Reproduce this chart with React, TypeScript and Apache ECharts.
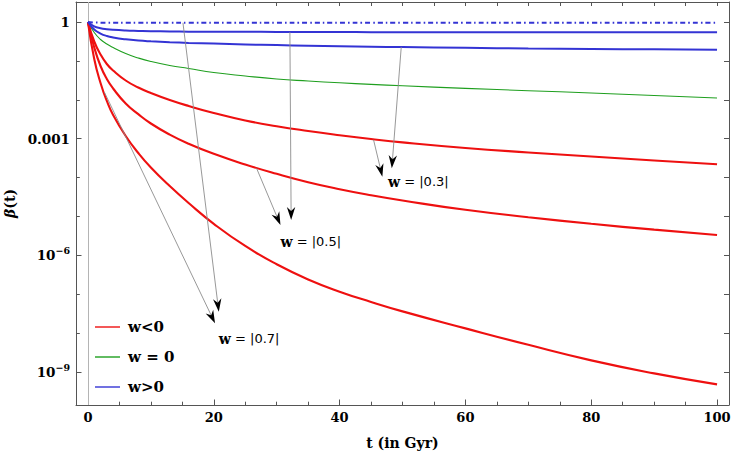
import React, { useEffect, useRef } from "react";
import * as echarts from "echarts";

// sample times (Gyr)
const tGyr = [0, 1, 2, 3, 4, 6, 8, 10, 13, 16, 20, 25, 30, 35, 40, 45, 50, 60, 70, 80, 90, 100];

// log10 of beta(t)
const logBetaRedW03 = [0, -0.501, -0.835, -1.08, -1.247, -1.504, -1.684, -1.825, -2.005, -2.159, -2.339, -2.532, -2.68, -2.802, -2.91, -3.008, -3.095, -3.239, -3.355, -3.46, -3.56, -3.658];
const logBetaRedW05 = [0, -0.656, -1.131, -1.465, -1.71, -2.095, -2.37, -2.61, -2.895, -3.13, -3.39, -3.665, -3.905, -4.12, -4.3, -4.455, -4.59, -4.83, -5.02, -5.19, -5.34, -5.476];
const logBetaRedW07 = [0, -0.951, -1.568, -2.031, -2.391, -2.931, -3.368, -3.74, -4.22, -4.655, -5.19, -5.76, -6.23, -6.62, -6.935, -7.2, -7.442, -7.879, -8.303, -8.702, -9.036, -9.319];
const logBetaGreenW0 = [0, -0.27, -0.45, -0.566, -0.656, -0.81, -0.925, -1.015, -1.118, -1.195, -1.298, -1.388, -1.465, -1.517, -1.563, -1.604, -1.64, -1.707, -1.766, -1.825, -1.889, -1.954];
const logBetaBlueW03 = [0, -0.193, -0.296, -0.36, -0.398, -0.445, -0.476, -0.496, -0.519, -0.537, -0.555, -0.576, -0.594, -0.609, -0.622, -0.635, -0.645, -0.663, -0.679, -0.692, -0.702, -0.712];
const logBetaBlueW05 = [0, -0.111, -0.159, -0.185, -0.201, -0.219, -0.229, -0.237, -0.242, -0.247, -0.249, -0.252, -0.254, -0.257, -0.257, -0.26, -0.26, -0.262, -0.262, -0.265, -0.265, -0.265];
const logBetaBlueW07 = [0, -0.012, -0.016, -0.018, -0.018, -0.019, -0.019, -0.02, -0.02, -0.02, -0.02, -0.02, -0.02, -0.02, -0.02, -0.02, -0.02, -0.02, -0.02, -0.02, -0.02, -0.02];

// ticks
const xMajorTicks = [0, 20, 40, 60, 80, 100];
const xMinorTicks = [5, 10, 15, 25, 30, 35, 45, 50, 55, 65, 70, 75, 85, 90, 95];
const xTopTicks = [0, 5, 10, 15, 20, 25, 30, 35, 40, 45, 50, 55, 60, 65, 70, 75, 80, 85, 90, 95, 100];
const yLabelTicks = [-9, -6, -3, 0];
const yMinorTicks = [-8, -7, -5, -4, -2, -1];
const yDecadeTicks = [-9, -8, -7, -6, -5, -4, -3, -2, -1, 0];
const yTickText: Record<string, string> = { "0": "1", "-3": "0.001", "-6": "10{sup|−6}", "-9": "10{sup|−9}" };

// annotation arrows: [t start, log beta start, t tip, log beta tip]
const annotationArrows = [
  [2.6, -1.8, 20.2, -7.75],
  [15.1, -0.02, 20.8, -7.45],
  [26.8, -3.76, 30.6, -5.22],
  [32.1, -0.26, 32.3, -5.09],
  [45.4, -3.03, 46.8, -3.98],
  [49.8, -0.645, 48.3, -3.76],
];
const annotationLabelText = ["|0.3|", "|0.5|", "|0.7|"];
const annotationLabelPos = [
  [47.7, -4.11],
  [30.6, -5.65],
  [20.8, -8.15],
];

const RED = "#ee1010";
const GREEN = "#1f9f1f";
const BLUE = "#3434d4";
const FRAME = "#555555";
const SERIF = "DejaVu Serif";

function pairs(ys: number[]) {
  return tGyr.map((t, i) => [t, ys[i]]);
}

function curve(name: string, ys: number[], color: string, width: number, type: any = "solid") {
  return {
    type: "line",
    name,
    data: pairs(ys),
    xAxisIndex: 0,
    yAxisIndex: 0,
    symbol: "none",
    showSymbol: false,
    smooth: 0.5,
    lineStyle: { color, width, type, cap: "butt" },
    itemStyle: { color },
    z: 3,
  };
}

export default function App() {
  const ref = useRef<HTMLDivElement>(null);
  useEffect(() => {
    if (!ref.current) return;
    const chart = echarts.init(ref.current, null, { renderer: "svg" });
    const xMin = -1.9;
    const xMax = 101.9;
    const yMin = -9.85;
    const yMax = 0.515;
    const option: any = {
      animation: false,
      grid: { left: 76, right: 5, top: 2, bottom: 47, containLabel: false, outerBoundsMode: "none" },
      legend: {
        orient: "vertical",
        left: 90,
        top: 314,
        icon: "rect",
        itemWidth: 25,
        itemHeight: 1.4,
        itemGap: 14,
        data: [
          { name: "w<0", itemStyle: { color: RED } },
          { name: "w = 0", itemStyle: { color: GREEN } },
          { name: "w>0", itemStyle: { color: BLUE } },
        ],
        textStyle: { fontFamily: SERIF, fontWeight: "bold", fontSize: 15, color: "#000", lineHeight: 16, padding: [0, 0, 0, 3] },
        selectedMode: false,
      },
      xAxis: [
        {
          type: "value",
          min: xMin,
          max: xMax,
          position: "bottom",
          axisLine: { show: true, onZero: false, lineStyle: { color: FRAME, width: 1 } },
          axisTick: { show: true, inside: true, length: 5.5, customValues: xMajorTicks, lineStyle: { color: FRAME } },
          axisLabel: { show: true, customValues: xMajorTicks, fontFamily: SERIF, fontWeight: "bold", fontSize: 13, color: "#000", margin: 6 },
          splitLine: { show: false },
          name: "t (in Gyr)",
          nameLocation: "middle",
          nameGap: 31,
          nameTextStyle: { fontFamily: SERIF, fontWeight: "bold", fontSize: 14, color: "#000" },
        },
        {
          type: "value",
          min: xMin,
          max: xMax,
          position: "bottom",
          axisLine: { show: false, onZero: false },
          axisTick: { show: true, inside: true, length: 3.3, customValues: xMinorTicks, lineStyle: { color: FRAME } },
          axisLabel: { show: false },
          splitLine: { show: false },
        },
        {
          type: "value",
          min: xMin,
          max: xMax,
          position: "top",
          axisLine: { show: true, onZero: false, lineStyle: { color: FRAME, width: 1 } },
          axisTick: { show: true, inside: true, length: 4, customValues: xTopTicks, lineStyle: { color: FRAME } },
          axisLabel: { show: false },
          splitLine: { show: false },
        },
      ],
      yAxis: [
        {
          type: "value",
          min: yMin,
          max: yMax,
          position: "left",
          axisLine: { show: true, onZero: false, lineStyle: { color: FRAME, width: 1 } },
          axisTick: { show: true, inside: true, length: 5.5, customValues: yLabelTicks, lineStyle: { color: FRAME } },
          axisLabel: {
            show: true,
            customValues: yLabelTicks,
            formatter: (v: number) => yTickText[String(Math.round(v))] ?? "",
            fontFamily: SERIF,
            fontWeight: "bold",
            fontSize: 13.5,
            color: "#000",
            margin: 6,
            rich: {
              sup: { fontFamily: SERIF, fontWeight: "bold", fontSize: 9.5, color: "#000", padding: [0, 0, 9, 0] },
            },
          },
          splitLine: { show: false },
          name: "{b|β}(t)",
          nameLocation: "middle",
          nameGap: 56,
          nameRotate: 90,
          nameTextStyle: {
            fontFamily: SERIF,
            fontWeight: "bold",
            fontSize: 14,
            color: "#000",
            rich: { b: { fontFamily: SERIF, fontWeight: "bold", fontSize: 14, fontStyle: "italic", color: "#000" } },
          },
        },
        {
          type: "value",
          min: yMin,
          max: yMax,
          position: "left",
          axisLine: { show: false, onZero: false },
          axisTick: { show: true, inside: true, length: 3.8, customValues: yMinorTicks, lineStyle: { color: FRAME } },
          axisLabel: { show: false },
          splitLine: { show: false },
        },
        {
          type: "value",
          min: yMin,
          max: yMax,
          position: "right",
          axisLine: { show: true, onZero: false, lineStyle: { color: FRAME, width: 1 } },
          axisTick: { show: true, inside: true, length: 5, customValues: yDecadeTicks, lineStyle: { color: FRAME } },
          axisLabel: { show: false },
          splitLine: { show: false },
        },
      ],
      series: [
        {
          ...curve("w = 0", logBetaGreenW0, GREEN, 1.1),
          markLine: {
            silent: true,
            symbol: ["none", "none"],
            label: { show: false },
            lineStyle: { color: "#b4b4b4", width: 1, type: "solid" },
            data: [{ xAxis: 0 }],
            z: 1,
          },
        },
        curve("w<0", logBetaRedW03, RED, 2.1),
        curve("w<0", logBetaRedW05, RED, 2.1),
        curve("w<0", logBetaRedW07, RED, 2.1),
        curve("w>0", logBetaBlueW03, BLUE, 2),
        curve("w>0", logBetaBlueW05, BLUE, 2),
        curve("w>0", logBetaBlueW07, BLUE, 2, [5, 3, 1.6, 3]),
        {
          type: "custom",
          name: "arrows",
          xAxisIndex: 0,
          yAxisIndex: 0,
          silent: true,
          z: 5,
          data: annotationArrows,
          encode: { x: [0, 2], y: [1, 3] },
          renderItem: (params: any, api: any) => {
            const a = api.coord([api.value(0), api.value(1)]);
            const b = api.coord([api.value(2), api.value(3)]);
            const dx = b[0] - a[0];
            const dy = b[1] - a[1];
            const len = Math.hypot(dx, dy) || 1;
            const ux = dx / len;
            const uy = dy / len;
            const nx = -uy;
            const ny = ux;
            const L = 13;
            const W = 4.2;
            const N = 4;
            const bx = b[0] - ux * L;
            const by = b[1] - uy * L;
            const mx = b[0] - ux * (L - N);
            const my = b[1] - uy * (L - N);
            return {
              type: "group",
              children: [
                {
                  type: "line",
                  shape: { x1: a[0], y1: a[1], x2: mx, y2: my },
                  style: { stroke: "#8c8c8c", lineWidth: 0.9 },
                },
                {
                  type: "polygon",
                  shape: { points: [[b[0], b[1]], [bx + nx * W, by + ny * W], [mx, my], [bx - nx * W, by - ny * W]] },
                  style: { fill: "#000" },
                },
              ],
            };
          },
        },
        {
          type: "custom",
          name: "labels",
          xAxisIndex: 0,
          yAxisIndex: 0,
          silent: true,
          z: 6,
          data: annotationLabelPos,
          renderItem: (params: any, api: any) => {
            const p = api.coord([api.value(0), api.value(1)]);
            return {
              type: "text",
              x: p[0],
              y: p[1],
              style: {
                text: "{w|w} = " + annotationLabelText[params.dataIndex],
                rich: { w: { fontFamily: SERIF, fontWeight: "bold", fontSize: 14, fill: "#000" } },
                fontFamily: "DejaVu Sans",
                fontSize: 13,
                fill: "#000",
                align: "left",
                verticalAlign: "middle",
              },
            };
          },
        },
      ],
    };
    chart.setOption(option);
    return () => chart.dispose();
  }, []);
  return (
    <div
      ref={ref}
      style={{ position: "fixed", left: 0, top: 0, width: 734, height: 452, background: "#fff" }}
    />
  );
}
